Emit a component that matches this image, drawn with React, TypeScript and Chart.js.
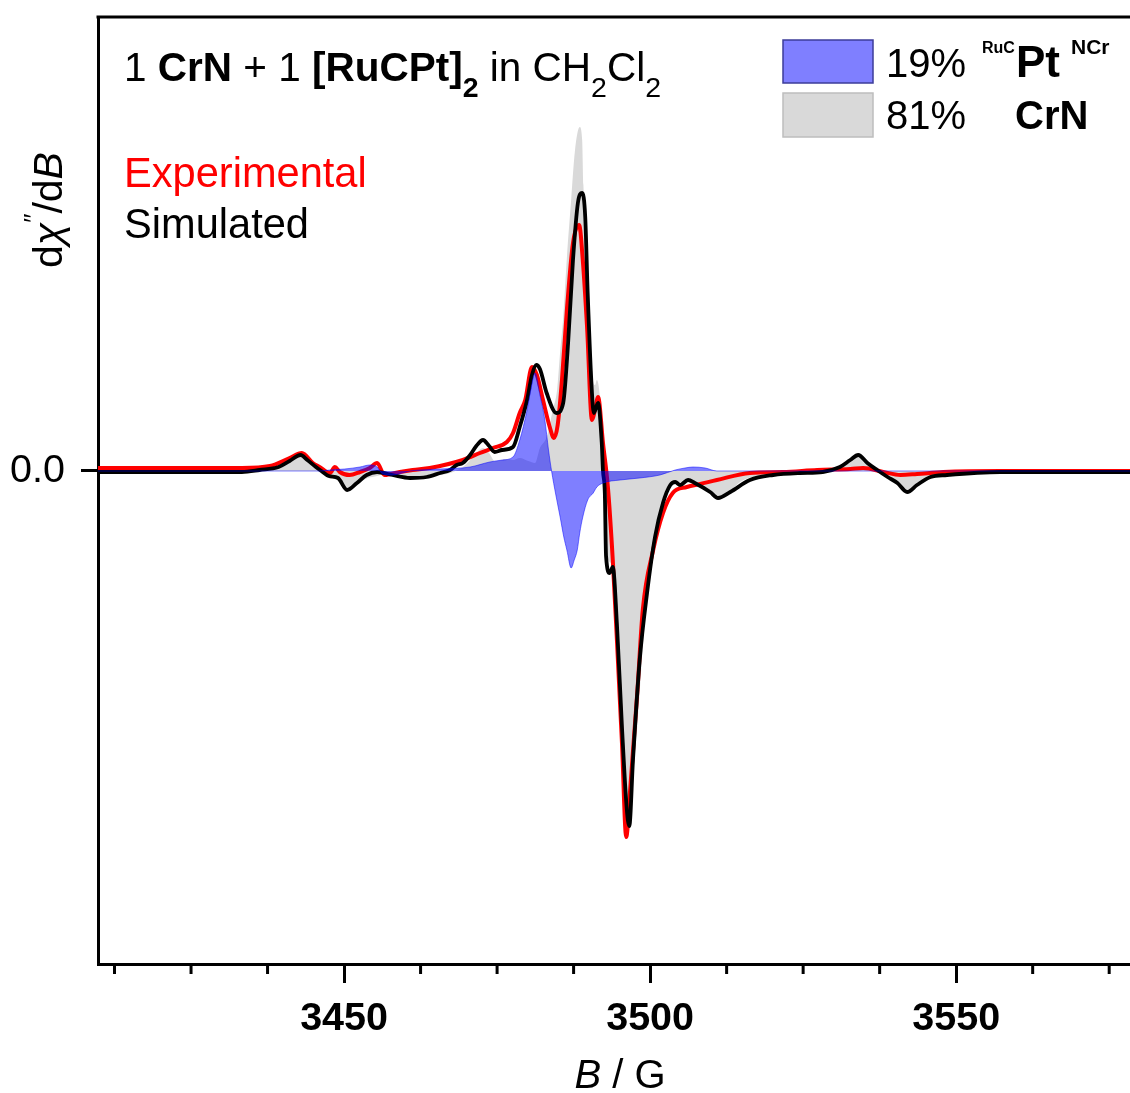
import React, { useEffect, useRef } from 'react';
import { Chart, registerables } from 'chart.js';

Chart.register(...registerables);

// ---------- axis ranges & ticks ----------
const fieldMin = 3409.8;
const fieldMax = 3578.4;
const signalMin = -4.93;
const signalMax = 4.54;
const xMajorTicks = [3450, 3500, 3550];
const xMinorTicks = [3412.5, 3425, 3437.5, 3462.5, 3475, 3487.5, 3512.5, 3525, 3537.5, 3562.5, 3575];
const yTickValues = [0];
const yTickLabels = ['0.0'];

// ---------- Experimental (red) ----------
const expField = [3409.8, 3426.5, 3433.3, 3437.9, 3441.1, 3443.1, 3444.9, 3446.0, 3447.7, 3448.5, 3449.3, 3450.9, 3452.6, 3454.2, 3455.4, 3456.6, 3459.1, 3461.2, 3464.0, 3469.4, 3472.2, 3474.3, 3476.6, 3477.6, 3478.7, 3479.6, 3480.7, 3481.5, 3482.5, 3483.6, 3484.3, 3484.9, 3485.6, 3486.4, 3487.4, 3488.4, 3489.0, 3489.7, 3490.5, 3491.0, 3491.5, 3492.3, 3493.1, 3493.9, 3494.6, 3495.4, 3496.1, 3496.7, 3497.9, 3498.8, 3500.5, 3502.1, 3503.7, 3506.0, 3508.2, 3510.9, 3516.3, 3521.7, 3527.3, 3532.7, 3534.8, 3538.1, 3540.9, 3543.6, 3547.9, 3557.2, 3578.4];
const expSignal = [0.03, 0.03, 0.03, 0.05, 0.13, 0.18, 0.08, 0.04, -0.02, 0.04, -0.01, -0.04, -0.01, 0.03, 0.08, -0.04, -0.01, 0.01, 0.03, 0.11, 0.18, 0.23, 0.29, 0.38, 0.58, 0.71, 1.04, 0.96, 0.71, 0.44, 0.33, 0.46, 0.91, 1.61, 2.28, 2.46, 2.11, 1.44, 0.51, 0.61, 0.74, 0.28, -0.16, -0.89, -1.72, -2.72, -3.66, -3.22, -2.22, -1.39, -0.79, -0.42, -0.22, -0.16, -0.13, -0.09, -0.02, -0.01, 0.01, 0.02, 0.03, -0.01, -0.04, -0.03, -0.01, 0, 0];

// ---------- Simulated (black) ----------
const simField = [3409.8, 3433.3, 3436.2, 3439.3, 3441.1, 3442.9, 3444.0, 3445.4, 3446.3, 3447.5, 3449.0, 3450.5, 3452.1, 3453.7, 3455.4, 3457.9, 3460.8, 3463.5, 3465.7, 3467.3, 3468.4, 3469.4, 3470.6, 3471.6, 3472.7, 3473.7, 3474.6, 3475.8, 3477.6, 3478.7, 3479.9, 3480.7, 3481.4, 3482.0, 3483.1, 3484.7, 3485.8, 3486.6, 3487.4, 3488.2, 3488.9, 3489.4, 3489.8, 3490.5, 3490.8, 3491.5, 3492.1, 3492.3, 3492.6, 3492.8, 3493.4, 3493.9, 3494.6, 3495.4, 3496.2, 3496.6, 3497.2, 3498.3, 3499.5, 3500.8, 3502.1, 3503.3, 3504.1, 3504.9, 3506.2, 3507.3, 3509.8, 3511.1, 3513.1, 3516.3, 3520.1, 3524.5, 3528.2, 3531.0, 3532.7, 3534.0, 3535.5, 3537.1, 3538.8, 3540.4, 3542.0, 3543.6, 3545.8, 3548.5, 3557.2, 3578.4];
const simSignal = [-0.01, -0.01, 0.01, 0.04, 0.10, 0.16, 0.11, 0.04, 0.00, -0.05, -0.07, -0.19, -0.12, -0.04, -0.01, -0.04, -0.07, -0.06, -0.02, 0.01, 0.06, 0.08, 0.16, 0.25, 0.31, 0.25, 0.19, 0.21, 0.24, 0.44, 0.71, 0.96, 1.06, 1.02, 0.78, 0.58, 0.68, 1.28, 2.11, 2.68, 2.78, 2.54, 1.78, 0.78, 0.58, 0.68, 0.28, 0.00, -0.22, -0.85, -1.02, -0.96, -1.56, -2.56, -3.39, -3.55, -2.89, -1.89, -1.22, -0.66, -0.32, -0.14, -0.11, -0.14, -0.09, -0.12, -0.21, -0.27, -0.21, -0.09, -0.04, -0.02, -0.01, 0.04, 0.11, 0.16, 0.08, 0.01, -0.06, -0.12, -0.21, -0.14, -0.06, -0.04, -0.01, -0.01];

// ---------- 81% CrN component (grey fill) ----------
const crnField = [3409.8, 3434.9, 3437.9, 3441.1, 3442.9, 3444.3, 3445.9, 3447.5, 3449.0, 3450.5, 3452.1, 3453.9, 3455.4, 3457.9, 3460.8, 3463.5, 3465.7, 3467.3, 3469.4, 3470.6, 3471.6, 3472.7, 3473.7, 3474.6, 3476.6, 3477.6, 3478.7, 3480.1, 3481.2, 3482.0, 3483.1, 3484.1, 3484.8, 3485.3, 3485.8, 3486.4, 3487.1, 3487.7, 3488.5, 3488.9, 3489.1, 3489.8, 3490.5, 3491.0, 3491.3, 3491.8, 3492.3, 3492.8, 3493.4, 3493.9, 3494.6, 3495.4, 3496.2, 3496.7, 3497.9, 3499.5, 3501.6, 3503.7, 3504.9, 3506.5, 3508.2, 3509.8, 3511.1, 3513.1, 3514.7, 3518.0, 3524.5, 3531.0, 3532.7, 3533.9, 3535.5, 3537.1, 3538.8, 3540.4, 3542.0, 3543.6, 3545.8, 3548.8, 3557.2, 3578.4];
const crnSignal = [0, 0, 0.02, 0.10, 0.16, 0.09, 0.01, -0.07, -0.08, -0.18, -0.12, -0.07, -0.05, 0.00, -0.07, -0.07, -0.04, -0.02, 0.04, 0.11, 0.18, 0.23, 0.18, 0.10, 0.12, 0.11, 0.13, 0.10, 0.08, 0.23, 0.34, 0.61, 0.81, 1.19, 1.53, 2.13, 2.71, 3.19, 3.44, 3.31, 2.86, 2.09, 1.01, 0.86, 0.91, 0.74, 0.21, -0.69, -0.91, -0.94, -1.51, -2.51, -3.47, -3.34, -2.56, -1.22, -0.56, -0.11, -0.11, -0.11, -0.15, -0.22, -0.26, -0.20, -0.11, -0.04, -0.01, 0.04, 0.11, 0.15, 0.08, 0.01, -0.06, -0.12, -0.19, -0.13, -0.06, -0.02, 0, 0];

// ---------- 19% RuC-Pt-NCr component (blue fill) ----------
const rucField = [3409.8, 3446.0, 3447.7, 3450.1, 3452.6, 3454.2, 3455.4, 3456.3, 3457.9, 3459.5, 3460.8, 3462.4, 3465.7, 3470.6, 3473.8, 3475.9, 3477.6, 3478.7, 3479.9, 3480.5, 3481.2, 3482.0, 3482.8, 3483.4, 3483.9, 3484.6, 3485.3, 3485.9, 3486.4, 3487.1, 3487.6, 3488.1, 3488.5, 3489.0, 3489.8, 3490.7, 3491.3, 3492.3, 3495.1, 3498.3, 3501.6, 3504.1, 3505.7, 3507.0, 3509.0, 3510.9, 3578.4];
const rucSignal = [0, 0, 0.01, 0.02, 0.04, 0.06, 0.04, -0.03, -0.04, -0.02, 0, 0.01, 0.02, 0.04, 0.09, 0.11, 0.14, 0.31, 0.61, 0.81, 0.98, 0.76, 0.51, 0.21, 0.00, -0.24, -0.46, -0.66, -0.79, -0.97, -0.89, -0.79, -0.62, -0.46, -0.29, -0.22, -0.16, -0.12, -0.09, -0.07, -0.04, 0.01, 0.03, 0.04, 0.03, 0, 0];

const legendPercents = ['19%', '81%'];

const FONT = "'Liberation Sans', Arial, Helvetica, sans-serif";

type Run = { t: string; size: number; weight?: string; style?: string; dy?: number };

function setFont(ctx: CanvasRenderingContext2D, r: Run) {
  ctx.font = `${r.style || 'normal'} ${r.weight || 'normal'} ${r.size}px ${FONT}`;
}
function measureRuns(ctx: CanvasRenderingContext2D, runs: Run[]) {
  let w = 0;
  for (const r of runs) {
    setFont(ctx, r);
    w += ctx.measureText(r.t).width;
  }
  return w;
}
function drawRuns(ctx: CanvasRenderingContext2D, runs: Run[], x: number, y: number, color: string) {
  let cx = x;
  ctx.fillStyle = color;
  ctx.textAlign = 'left';
  ctx.textBaseline = 'alphabetic';
  for (const r of runs) {
    setFont(ctx, r);
    ctx.fillText(r.t, cx, y + (r.dy || 0));
    cx += ctx.measureText(r.t).width;
  }
  return cx;
}

function pairs(xs: number[], ys: number[]) {
  const n = Math.min(xs.length, ys.length);
  const out: { x: number; y: number }[] = [];
  for (let i = 0; i < n; i++) out.push({ x: xs[i], y: ys[i] });
  return out;
}

const decorPlugin = {
  id: 'decor',
  afterDraw(chart: any) {
    const { ctx, chartArea: a } = chart;
    const xs = chart.scales.x;
    ctx.save();
    // top frame
    ctx.strokeStyle = '#000';
    ctx.lineWidth = 3;
    ctx.lineCap = 'butt';
    ctx.beginPath();
    ctx.moveTo(a.left - 1.5, a.top);
    ctx.lineTo(a.right, a.top);
    ctx.stroke();
    // minor ticks
    ctx.lineWidth = 3;
    for (const v of xMinorTicks) {
      const px = xs.getPixelForValue(v);
      ctx.beginPath();
      ctx.moveTo(px, a.bottom);
      ctx.lineTo(px, a.bottom + 10);
      ctx.stroke();
    }

    // title
    drawRuns(ctx, [
      { t: '1 ', size: 40.5 },
      { t: 'CrN', size: 40.5, weight: 'bold' },
      { t: ' + 1 ', size: 40.5 },
      { t: '[RuCPt]', size: 40.5, weight: 'bold' },
      { t: '2', size: 28.5, weight: 'bold', dy: 16 },
      { t: ' in CH', size: 40.5 },
      { t: '2', size: 28.5, dy: 16 },
      { t: 'Cl', size: 40.5 },
      { t: '2', size: 28.5, dy: 16 },
    ], 124, 81, '#000');

    drawRuns(ctx, [{ t: 'Experimental', size: 41.6 }], 124, 187, '#ff0000');
    drawRuns(ctx, [{ t: 'Simulated', size: 41.6 }], 124, 238, '#000');

    // legend
    ctx.fillStyle = 'rgba(0,0,255,0.5)';
    ctx.fillRect(783, 40, 90, 43);
    ctx.strokeStyle = '#3c3c99';
    ctx.lineWidth = 1.5;
    ctx.strokeRect(783, 40, 90, 43);
    ctx.fillStyle = '#d9d9d9';
    ctx.fillRect(783, 93, 90, 44);
    ctx.strokeStyle = '#bdbdbd';
    ctx.strokeRect(783, 93, 90, 44);

    drawRuns(ctx, [{ t: legendPercents[0], size: 40 }], 886, 77, '#000');
    drawRuns(ctx, [{ t: 'RuC', size: 16, weight: 'bold' }], 982, 53, '#000');
    drawRuns(ctx, [{ t: 'Pt', size: 44, weight: 'bold' }], 1016, 77, '#000');
    drawRuns(ctx, [{ t: 'NCr', size: 21, weight: 'bold' }], 1071, 54, '#000');
    drawRuns(ctx, [{ t: legendPercents[1], size: 40 }], 886, 129, '#000');
    drawRuns(ctx, [{ t: 'CrN', size: 40, weight: 'bold' }], 1015, 129, '#000');

    // x axis title
    const xt: Run[] = [
      { t: 'B', size: 40, style: 'italic' },
      { t: ' / G', size: 40 },
    ];
    const w = measureRuns(ctx, xt);
    const cx = (a.left + a.right) / 2 + 6;
    drawRuns(ctx, xt, cx - w / 2, 1088, '#000');

    // y axis title (rotated)
    ctx.save();
    ctx.translate(62, 268);
    ctx.rotate(-Math.PI / 2);
    drawRuns(ctx, [
      { t: 'd', size: 41 },
      { t: 'χ', size: 41, style: 'italic' },
      { t: '″', size: 26, dy: -20 },
      { t: '/d', size: 41 },
      { t: 'B', size: 41, style: 'italic' },
    ], 0, 0, '#000');
    ctx.restore();

    ctx.restore();
  },
};

export default function App() {
  const ref = useRef<HTMLCanvasElement | null>(null);

  useEffect(() => {
    if (!ref.current) return;
    const common = { pointRadius: 0, pointHoverRadius: 0, cubicInterpolationMode: 'monotone' as const };
    const chart = new Chart(ref.current, {
      type: 'line',
      data: {
        datasets: [
          {
            label: '19% RuCPtNCr',
            data: pairs(rucField, rucSignal),
            fill: 'origin',
            backgroundColor: 'rgba(0,0,255,0.5)',
            borderColor: 'rgba(0,0,255,0.5)',
            borderWidth: 1,
            order: 0,
            ...common,
          },
          {
            label: 'Simulated',
            data: pairs(simField, simSignal),
            fill: false,
            borderColor: '#000000',
            borderWidth: 3.8,
            order: 1,
            ...common,
          },
          {
            label: 'Experimental',
            data: pairs(expField, expSignal),
            fill: false,
            borderColor: '#ff0000',
            borderWidth: 4,
            order: 2,
            ...common,
          },
          {
            label: '81% CrN',
            data: pairs(crnField, crnSignal),
            fill: 'origin',
            backgroundColor: '#d9d9d9',
            borderColor: '#d9d9d9',
            borderWidth: 0,
            order: 3,
            ...common,
          },
        ],
      },
      options: {
        responsive: false,
        maintainAspectRatio: false,
        animation: false,
        events: [],
        layout: { padding: { top: 17, left: 0, right: 0, bottom: 0 } },
        plugins: {
          legend: { display: false },
          tooltip: { enabled: false },
          title: { display: false },
        },
        scales: {
          x: {
            type: 'linear',
            min: fieldMin,
            max: fieldMax,
            afterBuildTicks: (s: any) => {
              s.ticks = xMajorTicks.map((v) => ({ value: v }));
            },
            afterFit: (s: any) => {
              s.height = 1093 - 964;
              s.paddingLeft = 0;
              s.paddingRight = 0;
            },
            border: { display: true, color: '#000', width: 3 },
            grid: {
              display: true,
              drawOnChartArea: false,
              drawTicks: true,
              tickLength: 19,
              tickWidth: 3,
              tickColor: '#000',
              color: '#000',
            },
            ticks: {
              autoSkip: false,
              maxRotation: 0,
              minRotation: 0,
              padding: 12,
              color: '#000',
              font: { family: FONT, size: 39.5, weight: 'bold' },
              callback: (v: any) => String(v),
            },
          },
          y: {
            type: 'linear',
            min: signalMin,
            max: signalMax,
            afterBuildTicks: (s: any) => {
              s.ticks = yTickValues.map((v) => ({ value: v }));
            },
            afterFit: (s: any) => {
              s.width = 98;
              s.paddingTop = 0;
              s.paddingBottom = 0;
            },
            border: { display: true, color: '#000', width: 3 },
            grid: {
              display: true,
              drawOnChartArea: false,
              drawTicks: true,
              tickLength: 17,
              tickWidth: 3,
              tickColor: '#000',
              color: '#000',
            },
            ticks: {
              padding: 16,
              color: '#000',
              font: { family: FONT, size: 39.5 },
              callback: (v: any) => {
                const i = yTickValues.indexOf(Number(v));
                return i >= 0 ? yTickLabels[i] : '';
              },
            },
          },
        },
      },
      plugins: [decorPlugin],
    } as any);
    return () => chart.destroy();
  }, []);

  return (
    <div style={{ position: 'absolute', left: 0, top: 0, width: 1130, height: 1093, background: '#fff' }}>
      <canvas ref={ref} width={1130} height={1093} style={{ width: 1130, height: 1093, display: 'block' }} />
    </div>
  );
}
